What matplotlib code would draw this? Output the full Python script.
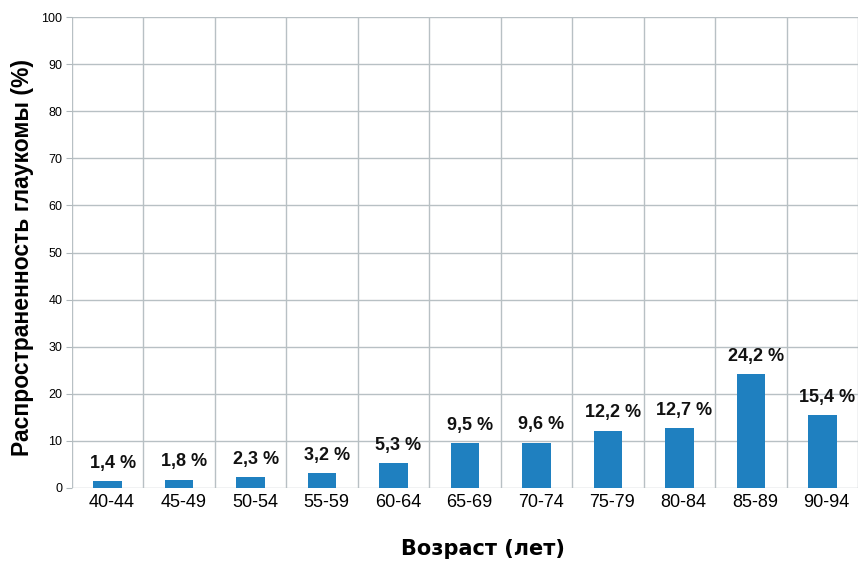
import matplotlib.pyplot as plt
import numpy as np

plt.rcParams['font.family'] = ['Liberation Sans', 'DejaVu Sans']

ages = ["40-44", "45-49", "50-54", "55-59", "60-64", "65-69", "70-74", "75-79", "80-84", "85-89", "90-94"]
prev = [1.4, 1.8, 2.3, 3.2, 5.3, 9.5, 9.6, 12.2, 12.7, 24.2, 15.4]
labels = ["1,4 %", "1,8 %", "2,3 %", "3,2 %", "5,3 %", "9,5 %", "9,6 %", "12,2 %", "12,7 %", "24,2 %", "15,4 %"]

fig = plt.figure(figsize=(8.59, 5.62), dpi=100)
ax = fig.add_axes([72/859, 74/562, 786/859, 471/562])

x = np.arange(len(ages))
ax.bar(x, prev, width=0.4, color="#1f80c0", zorder=3)
for xi, v, t in zip(x, prev, labels):
    ax.text(xi + 0.07, v + 2.0, t, ha="center", va="bottom", fontsize=13, fontweight="bold", color="#111111")

ax.set_xlim(-0.5, len(ages) - 0.5)
ax.set_ylim(0, 100)
ax.set_yticks(range(0, 101, 10))
ax.set_xticks(x + 0.06)
ax.set_xticklabels(ages, fontsize=13)
ax.set_xticks(np.arange(len(ages) + 1) - 0.5, minor=True)
ax.tick_params(axis="x", which="both", length=0, pad=4)
ax.tick_params(axis="y", length=4, color="#b0b8bc", labelsize=9, pad=3)
ax.grid(axis="y", color="#b8c0c4", lw=1, zorder=0)
ax.grid(axis="x", which="minor", color="#b8c0c4", lw=1, zorder=0)
for s in ax.spines.values():
    s.set_visible(False)

fig.text(23/859, 1 - 258/562, "Распространенность глаукомы (%)", rotation=90,
         ha="center", va="center", fontsize=16.5, fontweight="bold")
fig.text(483/859, 1 - 549/562, "Возраст (лет)", ha="center", va="center",
         fontsize=15, fontweight="bold", family="DejaVu Sans")

fig.savefig("out.png", dpi=100)
